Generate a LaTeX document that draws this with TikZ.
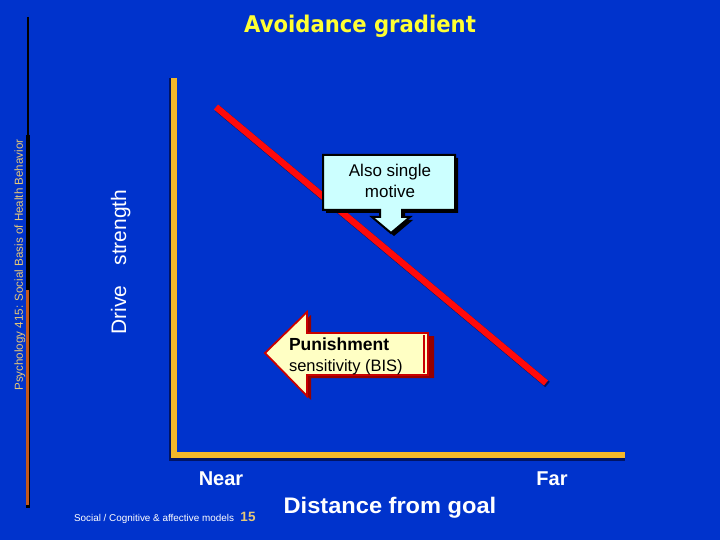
\documentclass[tikz,border=0pt]{standalone}
\usepackage{fontspec}
\setmainfont{Liberation Sans}
\newfontfamily\verdfont{DejaVu Sans}
\definecolor{bgblue}{HTML}{0033CC}
\definecolor{axisgold}{HTML}{F4B82A}
\definecolor{shadownavy}{HTML}{001466}
\definecolor{titleyellow}{HTML}{FFFF33}
\definecolor{tan}{HTML}{E6C878}
\definecolor{barorange}{HTML}{C4581C}
\definecolor{calloutcyan}{HTML}{CCFFFF}
\definecolor{arrowcream}{HTML}{FFFFC4}
\definecolor{arrowred}{HTML}{C80000}
\definecolor{arrowshadow}{HTML}{960000}
\definecolor{gradred}{HTML}{FF0A0A}
\tikzset{
  txt/.style={inner sep=0pt, outer sep=0pt, anchor=base},
  axisline/.style={draw=axisgold, line width=6pt},
  axisshadow/.style={draw=shadownavy, line width=6pt},
}
\begin{document}
\begin{tikzpicture}[x=1pt,y=-1pt]
\useasboundingbox (0,0) rectangle (720,540);
\fill[bgblue] (0,0) rectangle (720,540);

% left decorative bar
\coordinate (bartop) at (28,17);
\coordinate (barmid) at (28,135);
\coordinate (barbot) at (28,508);
\coordinate (orangetop) at (27.5,290);
\coordinate (orangebot) at (27.5,505);
\draw[black, line width=2.4pt] (bartop) -- (barmid);
\draw[black, line width=4.4pt] (barmid) -- (barbot);
\draw[barorange, line width=2.8pt] (orangetop) -- (orangebot);

\node[txt, rotate=90, text=tan, font=\fontsize{11.6}{12}\selectfont] (course) at (23,265)
  {Psychology 415: Social Basis of Health Behavior};

% title
\node[txt, text=titleyellow, font=\verdfont\bfseries\fontsize{23}{26}\selectfont] (title) at (360,33)
  {\scalebox{0.92}[1]{Avoidance gradient}};

% axes
\coordinate (ytop) at (174,78);
\coordinate (origin) at (174,455);
\coordinate (xend) at (625,455);
\draw[axisshadow] ([shift={(-2.5,0)}]ytop) -- ([shift={(-2.5,2.5)}]origin) -- ([shift={(0,2.5)}]xend);
\draw[axisline, line join=miter] (ytop) -- (origin) -- (xend);

% gradient line
\coordinate (gstart) at (216,107);
\coordinate (gend) at (546,383);
\draw[shadownavy, line width=7pt] ([shift={(1.5,1.5)}]gstart) -- ([shift={(1.5,1.5)}]gend);
\draw[gradred, line width=6.5pt] (gstart) -- (gend);

% axis labels
\node[txt, rotate=90, text=white, font=\fontsize{21}{24}\selectfont] (ylabel) at (126,262)
  {Drive\hspace{20pt}strength};
\node[txt, text=white, font=\bfseries\fontsize{20}{24}\selectfont] (near) at (221,485) {Near};
\node[txt, text=white, font=\bfseries\fontsize{20}{24}\selectfont] (far) at (552,485) {Far};
\node[txt, text=white, font=\bfseries\fontsize{22.5}{26}\selectfont] (xlabel) at (390,513)
  {\scalebox{1.05}[1]{Distance from goal}};

% footer
\node[txt, text=white, font=\fontsize{9.9}{11}\selectfont] (footer) at (154,521)
  {Social / Cognitive \& affective models};
\node[txt, text=tan, font=\bfseries\fontsize{13.5}{14}\selectfont] (pagenum) at (248,521) {15};

% callout "Also single motive"
\fill[black] (326,158) -- (458,158) -- (458,213) -- (405,213) -- (405,220) -- (413,220)
  -- (394,236) -- (375,220) -- (383,220) -- (383,213) -- (326,213) -- cycle;
\draw[black, line width=2pt, fill=calloutcyan, line join=miter]
  (323,155) -- (455,155) -- (455,210) -- (402,210) -- (402,217) -- (410,217)
  -- (391,233) -- (372,217) -- (380,217) -- (380,210) -- (323,210) -- cycle;
\node[txt, font=\fontsize{17}{20}\selectfont] (also1) at (390,177) {Also single};
\node[txt, font=\fontsize{17}{20}\selectfont] (also2) at (390,197) {motive};

% punishment arrow
\fill[arrowshadow] (269,356) -- (311,315) -- (311,336) -- (434,336) -- (434,378)
  -- (311,378) -- (311,400) -- cycle;
\draw[arrowred, line width=1.8pt, fill=arrowcream, line join=miter]
  (265,353) -- (307,312) -- (307,333) -- (428,333) -- (428,375)
  -- (307,375) -- (307,396) -- cycle;
\coordinate (innertop) at (424,335);
\coordinate (innerbot) at (424,373);
\draw[arrowred, line width=1.2pt] (innertop) -- (innerbot);
\node[txt, anchor=base west, font=\bfseries\fontsize{17.5}{20}\selectfont] (pun1) at (289,350) {Punishment};
\node[txt, anchor=base west, font=\fontsize{16.5}{20}\selectfont] (pun2) at (289,371) {sensitivity (BIS)};
\end{tikzpicture}
\end{document}
